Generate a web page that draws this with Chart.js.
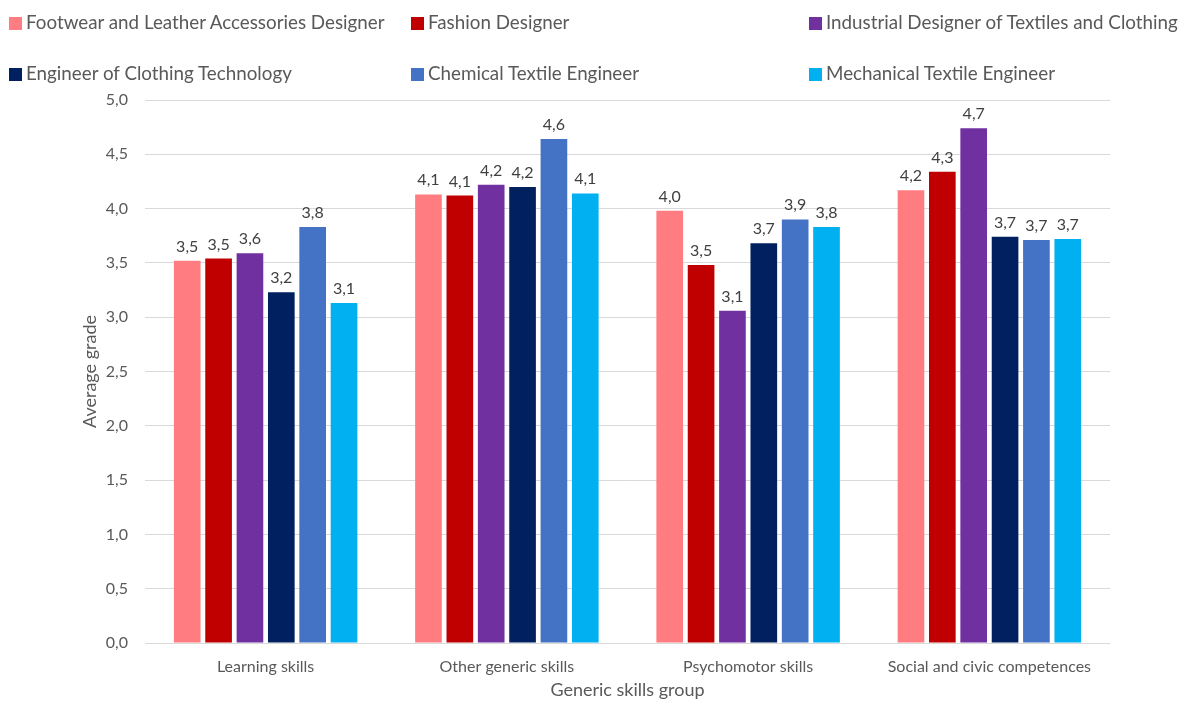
<!DOCTYPE html>
<html>
<head>
<meta charset="utf-8">
<script src="https://cdn.jsdelivr.net/npm/chart.js@4"></script>
<style>
  html, body { margin: 0; padding: 0; background: #fff; }
  #wrap { position: relative; width: 1183px; height: 702px; }
  #grafico { position: absolute; left: 0; top: 0; }
  #legenda { position: absolute; left: 0; top: 0; width: 1183px; font-family: Lato, sans-serif;
             font-size: 18.8px; line-height: 22px; color: #595959; }
  .item { position: absolute; white-space: nowrap; }
  .caixa { display: inline-block; width: 13px; height: 13px; margin-right: 4px; vertical-align: -1px; }
</style>
</head>
<body>
<div id="wrap">
  <canvas id="grafico" width="1183" height="702"></canvas>
  <div id="legenda"></div>
</div>
<script>
// Dados do gráfico
const categorias = ["Learning skills", "Other generic skills", "Psychomotor skills", "Social and civic competences"];
const series = [
  "Footwear and Leather Accessories Designer",
  "Fashion Designer",
  "Industrial Designer of Textiles and Clothing",
  "Engineer of Clothing Technology",
  "Chemical Textile Engineer",
  "Mechanical Textile Engineer",
];
const calcadoCouro    = [3.52, 4.13, 3.98, 4.17];
const designerModa    = [3.54, 4.12, 3.48, 4.34];
const designerIndust  = [3.59, 4.22, 3.06, 4.74];
const engVestuario    = [3.23, 4.20, 3.68, 3.74];
const engQuimico      = [3.83, 4.64, 3.90, 3.71];
const engMecanico     = [3.13, 4.14, 3.83, 3.72];
const valores = [calcadoCouro, designerModa, designerIndust, engVestuario, engQuimico, engMecanico];

const CORES = ["#FF7C80", "#C00000", "#7030A0", "#002060", "#4472C4", "#00B0F0"];
const COR_TEXTO = "#595959";

// Legenda em grade (3 colunas, 2 linhas) como no original
const posLegenda = [[9, 11], [411, 11], [809, 11], [9, 62], [411, 62], [809, 62]];
const legenda = document.getElementById("legenda");
series.forEach((nome, i) => {
  const el = document.createElement("div");
  el.className = "item";
  el.style.left = posLegenda[i][0] + "px";
  el.style.top  = posLegenda[i][1] + "px";
  el.innerHTML = `<span class="caixa" style="background:${CORES[i]}"></span>${nome}`;
  legenda.appendChild(el);
});

const fmt = v => v.toFixed(1).replace(".", ",");

// Plugin: rótulos de valor acima das barras
const rotulos = {
  id: "rotulos",
  afterDatasetsDraw(chart) {
    const ctx = chart.ctx;
    ctx.save();
    ctx.font = "16px Lato, sans-serif";
    ctx.fillStyle = "#404040";
    ctx.textAlign = "center";
    ctx.textBaseline = "alphabetic";
    chart.data.datasets.forEach((ds, i) => {
      chart.getDatasetMeta(i).data.forEach((bar, j) => {
        ctx.fillText(fmt(ds.data[j]), bar.x, bar.y - 9);
      });
    });
    ctx.restore();
  },
};

new Chart(document.getElementById("grafico"), {
  type: "bar",
  data: {
    labels: categorias,
    datasets: series.map((nome, i) => ({
      label: nome,
      data: valores[i],
      backgroundColor: CORES[i],
      barPercentage: 0.85,
      categoryPercentage: 0.78,
    })),
  },
  options: {
    responsive: false,
    animation: false,
    layout: { padding: { top: 100, right: 73, left: 0, bottom: 0 } },
    plugins: {
      legend:  { display: false },
      tooltip: { enabled: false },
    },
    scales: {
      x: {
        afterFit: s => { s.height = 59; },
        grid:   { display: false, drawTicks: false },
        border: { display: false },
        ticks:  { color: COR_TEXTO, font: { family: "Lato", size: 16 }, padding: 14 },
        title:  { display: true, text: "Generic skills group", color: COR_TEXTO,
                  font: { family: "Lato", size: 18 }, padding: { top: 0, bottom: 1 } },
      },
      y: {
        min: 0,
        max: 5,
        afterFit: s => { s.width = 145; },
        ticks:  { stepSize: 0.5, color: COR_TEXTO, font: { family: "Lato", size: 16 },
                  padding: 17, callback: v => fmt(v) },
        grid:   { color: "#d9d9d9", drawTicks: false },
        border: { display: false },
        title:  { display: true, text: "Average grade", color: COR_TEXTO,
                  font: { family: "Lato", size: 18 }, padding: { top: 79, bottom: 0 } },
      },
    },
  },
  plugins: [rotulos],
});
</script>
</body>
</html>
